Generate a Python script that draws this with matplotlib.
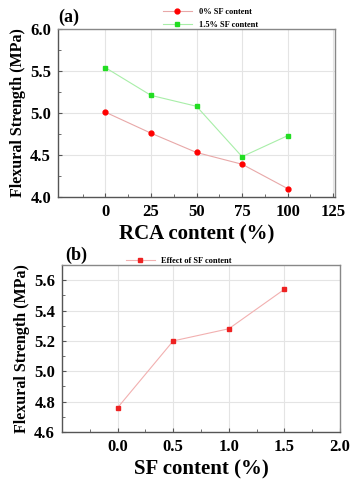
import matplotlib
matplotlib.use("Agg")
import matplotlib.pyplot as plt
from matplotlib.ticker import FixedLocator

plt.rcParams['font.family'] = ['Liberation Serif', 'DejaVu Serif']
plt.rcParams['font.weight'] = 'bold'

# panel (a)
rca = [0, 25, 50, 75, 100]
sf0 = [5.01, 4.76, 4.53, 4.39, 4.10]
sf15 = [5.54, 5.21, 5.08, 4.48, 4.73]
rca_ticks = [0, 25, 50, 75, 100, 125]
str_ticks_a = [4.0, 4.5, 5.0, 5.5, 6.0]

# panel (b)
sf_content = [0.0, 0.5, 1.0, 1.5]
sf_strength = [4.76, 5.20, 5.28, 5.54]
sf_ticks = [0.0, 0.5, 1.0, 1.5, 2.0]
str_ticks_b = [4.6, 4.8, 5.0, 5.2, 5.4, 5.6]

fig = plt.figure(figsize=(3.52, 4.8), dpi=100)
ax1 = fig.add_axes([58 / 352, 1 - 197 / 480, 277 / 352, 168 / 480])
ax2 = fig.add_axes([62 / 352, 1 - 432 / 480, 278 / 352, 167 / 480])


def style(ax, xt, yt):
    dx = (xt[1] - xt[0]) / 2
    dy = (yt[1] - yt[0]) / 2
    ax.xaxis.set_major_locator(FixedLocator(xt))
    ax.yaxis.set_major_locator(FixedLocator(yt))
    ax.xaxis.set_minor_locator(FixedLocator([xt[0] - dx] + [x + dx for x in xt]))
    ax.yaxis.set_minor_locator(FixedLocator([y + dy for y in yt]))
    ax.grid(True, color='#e4e4e4', linewidth=0.8)
    ax.set_axisbelow(True)
    for s in ax.spines.values():
        s.set_color('#888888')
        s.set_linewidth(1.0)
    ax.spines['left'].set_color('#555555')
    ax.spines['bottom'].set_color('#555555')
    ax.tick_params(which='both', direction='in', color='#555555', labelsize=12,
                   top=False, right=False, pad=5)
    ax.tick_params(which='major', length=3)
    ax.tick_params(which='minor', length=2)
    for lb in ax.get_xticklabels() + ax.get_yticklabels():
        lb.set_fontweight('bold')


ax1.plot(rca, sf0, color='#e8a8a8', lw=0.8, marker='o', ms=3.5,
         mfc='red', mec='red', label='0% SF content')
ax1.plot(rca, sf15, color='#a8eea8', lw=0.8, marker='s', ms=3.5,
         mfc='#22dd22', mec='#22dd22', label='1.5% SF content')
ax1.set_xlim(-26, 126)
ax1.set_ylim(4.0, 6.0)
style(ax1, rca_ticks, str_ticks_a)
ax1.set_xlabel('RCA content (%)', fontsize=15, fontweight='bold', labelpad=3)
ax1.set_ylabel('Flexural Strength (MPa)', fontsize=11.5, fontweight='bold', labelpad=3)
ax1.legend(loc='lower center', bbox_to_anchor=(0.55, 0.98), frameon=False,
           prop={'size': 6, 'weight': 'bold'}, handlelength=3.5, labelspacing=0.6,
           borderaxespad=0)
ax1.text(0.0, 1.04, '(a)', transform=ax1.transAxes, fontsize=13, fontweight='bold')

ax2.plot(sf_content, sf_strength, color='#f2b0b0', lw=0.8, marker='s', ms=3.5,
         mfc='#ee2222', mec='#ee2222', label='Effect of SF content')
ax2.set_xlim(-0.5, 2.0)
ax2.set_ylim(4.6, 5.7)
style(ax2, sf_ticks, str_ticks_b)
ax2.set_xlabel('SF content (%)', fontsize=15, fontweight='bold', labelpad=3)
ax2.set_ylabel('Flexural Strength (MPa)', fontsize=11.5, fontweight='bold', labelpad=3)
ax2.legend(loc='lower center', bbox_to_anchor=(0.42, 0.98), frameon=False,
           prop={'size': 6, 'weight': 'bold'}, handlelength=3.5, borderaxespad=0)
ax2.text(0.01, 1.03, '(b)', transform=ax2.transAxes, fontsize=13, fontweight='bold')

fig.savefig('out.png', dpi=100)
